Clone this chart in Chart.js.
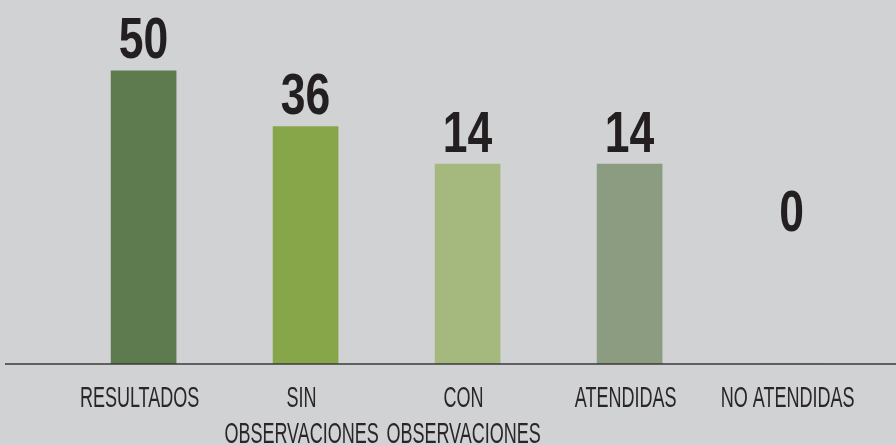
<!DOCTYPE html>
<html>
<head>
<meta charset="utf-8">
<script src="https://cdn.jsdelivr.net/npm/chart.js@4/dist/chart.umd.min.js"></script>
<style>
  html, body { margin: 0; padding: 0; background: #d1d2d4; }
  #wrap { width: 896px; height: 445px; }
</style>
</head>
<body>
<div id="wrap"><canvas id="c" width="896" height="445"></canvas></div>
<script>
// Categories and their wrapped tick labels
const categories = ['RESULTADOS', 'SIN OBSERVACIONES', 'CON OBSERVACIONES', 'ATENDIDAS', 'NO ATENDIDAS'];
const tickLabels = [['RESULTADOS'], ['SIN', 'OBSERVACIONES'], ['CON', 'OBSERVACIONES'], ['ATENDIDAS'], ['NO ATENDIDAS']];
// Printed values above the bars
const values = [50, 36, 14, 14, 0];
// Bar heights as drawn in the picture (the source chart does not draw them to scale)
const barLevels = [50, 40.5, 34.1, 34.1, 0];
const barColors = ['#5e7b50', '#87a649', '#a5b87e', '#8b9c80', '#8b9c80'];

const TEXT = '#231f20';

const overlay = {
  id: 'overlay',
  afterDatasetsDraw(chart) {
    const ctx = chart.ctx;
    const x = chart.scales.x, y = chart.scales.y;
    const base = y.getPixelForValue(0);
    ctx.save();
    // axis line
    ctx.strokeStyle = '#3a3a3a';
    ctx.lineWidth = 1.5;
    ctx.beginPath();
    ctx.moveTo(5, base);
    ctx.lineTo(chart.width, base);
    ctx.stroke();

    // value labels (condensed bold)
    ctx.fillStyle = TEXT;
    ctx.textAlign = 'center';
    ctx.textBaseline = 'alphabetic';
    const meta = chart.getDatasetMeta(0);
    values.forEach((v, i) => {
      const bar = meta.data[i];
      const cx = bar.x;
      let by = barLevels[i] > 0 ? bar.y - 12.5 : base - (base - chart.chartArea.top) * 0.365;
      ctx.save();
      ctx.translate(cx, by);
      ctx.scale(0.78, 1);
      ctx.font = 'bold 57px "Liberation Sans", Arial, sans-serif';
      ctx.fillText(String(v), 0, 0);
      ctx.restore();
    });

    // category labels (condensed)
    ctx.fillStyle = '#2a2627';
    tickLabels.forEach((lines, i) => {
      const cx = x.getPixelForValue(i) - 4;
      lines.forEach((line, j) => {
        ctx.save();
        ctx.translate(cx, base + 42.5 + j * 36.5);
        ctx.scale(0.61, 1);
        ctx.font = '29.5px "Liberation Sans", Arial, sans-serif';
        ctx.fillText(line, 0, 0);
        ctx.restore();
      });
    });
    ctx.restore();
  }
};

new Chart(document.getElementById('c'), {
  type: 'bar',
  data: {
    labels: categories,
    datasets: [{
      data: barLevels,
      backgroundColor: barColors,
      borderWidth: 0,
      barThickness: 65
    }]
  },
  options: {
    responsive: false,
    animation: false,
    devicePixelRatio: 1,
    layout: { padding: { left: 62.6, right: 23.4, top: 0, bottom: 81 } },
    plugins: { legend: { display: false }, tooltip: { enabled: false } },
    scales: {
      x: { display: false, grid: { display: false } },
      y: { display: false, min: 0, max: 62.1, grid: { display: false } }
    }
  },
  plugins: [overlay]
});
</script>
</body>
</html>
